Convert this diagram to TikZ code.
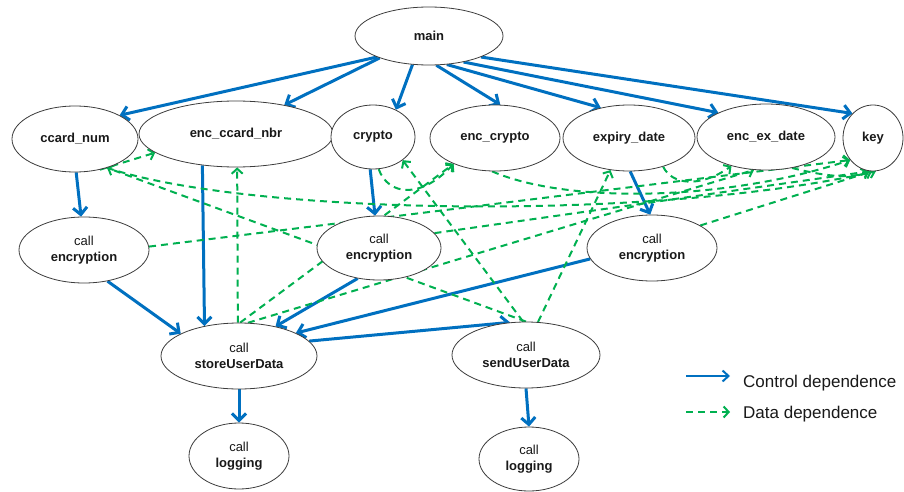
\documentclass[tikz,border=0pt]{standalone}
\usepackage{fontspec}
\setmainfont{Liberation Sans}
\usetikzlibrary{arrows.meta,shapes.geometric,backgrounds}
\definecolor{cblue}{RGB}{0,112,192}
\definecolor{cgreen}{RGB}{0,176,80}
\definecolor{cedge}{RGB}{60,60,60}
\definecolor{ctext}{RGB}{25,25,25}
\begin{document}
\begin{tikzpicture}[x=1pt,y=-1pt,
  nd/.style={ellipse,draw=cedge,line width=0.8pt,fill=white,inner sep=0pt,align=center,
    font=\fontsize{13}{16}\selectfont\bfseries,text=ctext},
  ctl/.style={draw=cblue,line width=3pt,-{Straight Barb[length=7pt,width=14pt]}},
  dat/.style={draw=cgreen,line width=2pt,dash pattern=on 7pt off 5pt,-{Straight Barb[length=5pt,width=11pt]}},
  leg/.style={font=\fontsize{17}{20}\selectfont,text=ctext,inner sep=0pt,anchor=base west}
]
\useasboundingbox (0,0) rectangle (904,492);
% nodes
\node[nd,minimum width=148pt,minimum height=58pt] (main) at (429,36) {main};
\node[nd,minimum width=126pt,minimum height=66pt] (ccard) at (75,139) {ccard\_num};
\node[nd,minimum width=194pt,minimum height=66pt] (encc) at (236,134) {enc\_ccard\_nbr};
\node[nd,minimum width=84pt,minimum height=64pt] (crypto) at (373,137) {crypto};
\node[nd,minimum width=130pt,minimum height=66pt] (encr) at (495,138) {enc\_crypto};
\node[nd,minimum width=132pt,minimum height=66pt] (expd) at (629,138) {expiry\_date};
\node[nd,minimum width=138pt,minimum height=66pt] (encx) at (766,137) {enc\_ex\_date};
\node[nd,minimum width=60pt,minimum height=66pt] (key) at (873,138) {key};
\node[nd,minimum width=130pt,minimum height=66pt] (ea) at (84,250) {{\mdseries call}\\encryption};
\node[nd,minimum width=124pt,minimum height=64pt] (eb) at (379,248) {{\mdseries call}\\encryption};
\node[nd,minimum width=130pt,minimum height=66pt] (ec) at (652,248) {{\mdseries call}\\encryption};
\node[nd,minimum width=156pt,minimum height=66pt] (store) at (239,356) {{\mdseries call}\\storeUserData};
\node[nd,minimum width=148pt,minimum height=66pt] (send) at (526,355) {{\mdseries call}\\sendUserData};
\node[nd,minimum width=100pt,minimum height=66pt] (loga) at (239,456) {{\mdseries call}\\logging};
\node[nd,minimum width=100pt,minimum height=64pt] (logb) at (529,459) {{\mdseries call}\\logging};
% legend
\coordinate (la1) at (686,376); \coordinate (la2) at (730,376);
\coordinate (lb1) at (686,412); \coordinate (lb2) at (730,412);
\node[leg] (lta) at (743,387) {Control dependence};
\node[leg] (ltb) at (743,418) {Data dependence};
\draw[ctl,line width=2pt,-{Straight Barb[length=6pt,width=11pt]}] (la1) -- (la2);
\draw[dat] (lb1) -- (lb2);
\begin{pgfonlayer}{background}
% control edges
\draw[ctl] (main.202) -- (ccard.28);
\draw[ctl] (main.204) -- (encc.31);
\draw[ctl] (main.240) -- (crypto.50);
\draw[ctl] (main.284) -- (encr.81);
\draw[ctl] (main.302) -- (expd.133);
\draw[ctl] (main.323) -- (encx.153);
\draw[ctl] (main.338) -- (key.130);
\draw[ctl] (ccard.272) -- (ea.95);
\draw[ctl] (ea.307) -- (store.159);
\draw[ctl] (encc.223) -- (store.139);
\draw[ctl] (crypto.265) -- (eb.97);
\draw[ctl] (eb.235) -- (store.39);
\draw[ctl] (ec.190) -- (store.22);
\draw[ctl] (store.12) -- (send.116);
\draw[ctl] (expd.272) -- (ec.93);
\draw[ctl] (store.south) -- (loga.north);
\draw[ctl] (send.south) -- (logb.north);
% data edges
\draw[dat] (ccard.309) -- (encc.193);
\draw[dat] (send.90) -- (ccard.318);
\draw[dat] (ccard.318) .. controls (250,215) and (650,222) .. (key.275);
\draw[dat] (ea.3) -- (key.224);
\draw[dat] (eb.15) -- (key.265);
\draw[dat] (ec.25) -- (key.268);
\draw[dat] (store.92) -- (encc.272);
\draw[dat] (store.88) -- (encr.212);
\draw[dat] (store.75) -- (encx.250);
\draw[dat] (send.95) -- (crypto.322);
\draw[dat] (send.70) -- (expd.240);
\draw[dat] (crypto.280) .. controls (388,195) and (420,200) .. (encr.212);
\draw[dat] (expd.320) .. controls (672,185) and (700,188) .. (encx.220);
\draw[dat] (encr.265) .. controls (570,205) and (730,200) .. (key.224);
\draw[dat] (encx.310) .. controls (820,175) and (850,180) .. (key.262);
\end{pgfonlayer}
\end{tikzpicture}
\end{document}
